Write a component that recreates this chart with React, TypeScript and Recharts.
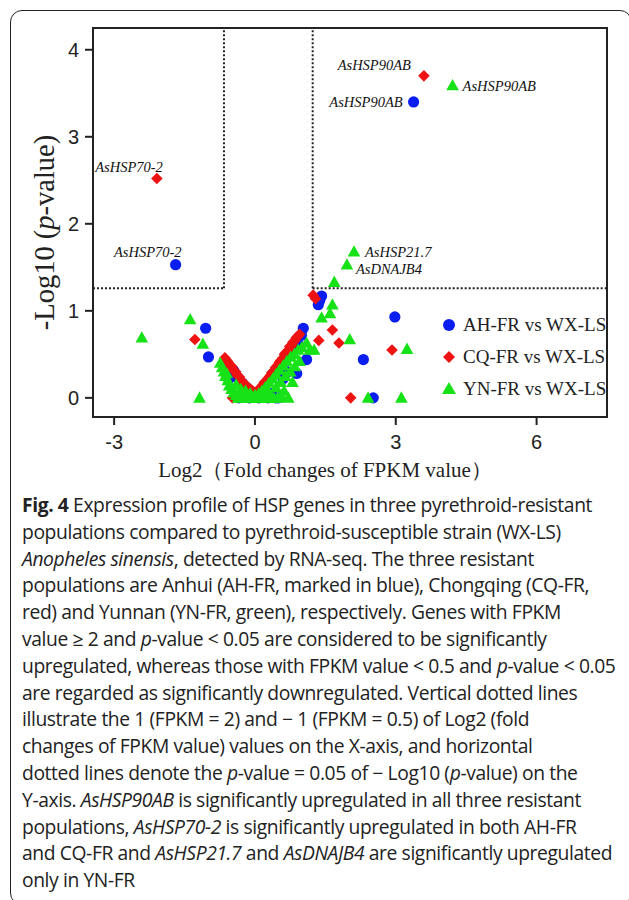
import React from 'react';
import {
  ScatterChart,
  Scatter,
  XAxis,
  YAxis,
  ReferenceLine,
  ReferenceArea,
  Legend,
} from 'recharts';

// ---------- data ----------
const X_TICKS = [-3, 0, 3, 6];
const Y_TICKS = [0, 1, 2, 3, 4];
const X_DOMAIN = [-3.45, 7.5];
const Y_DOMAIN = [-0.22, 4.25];
const FC_CUT_LOW = -0.66;
const FC_CUT_HIGH = 1.23;
const P_CUT = 1.26;

const SERIES_NAMES = ['AH-FR vs WX-LS', 'CQ-FR vs WX-LS', 'YN-FR vs WX-LS'];

// AH-FR (blue)
const AH_X = [3.38, -1.69, -1.05, -0.99, 2.98, 2.31, 2.52, 1.42, 1.35, 1.38, 1.03, 0.99, 1.10, 0.89, 0.50, -0.34, 0.44,
  -0.53, -0.6, -0.45, -0.38, -0.27, -0.18, -0.08, 0.03, 0.12, 0.21, 0.3, 0.39, 0.47, 0.56, 0.64, 0.72, 0.8, 0.92,
  -0.12, 0.08, 0.18, 0.28, 0.36, 0.6, 0.7];
const AH_Y = [3.40, 1.53, 0.80, 0.47, 0.93, 0.44, 0.0, 1.17, 1.07, 1.12, 0.80, 0.72, 0.44, 0.28, 0.0, 0.0, 0.0,
  0.23, 0.40, 0.31, 0.24, 0.17, 0.12, 0.07, 0.05, 0.09, 0.15, 0.21, 0.28, 0.33, 0.39, 0.46, 0.52, 0.58, 0.62,
  0.0, 0.0, 0.02, 0.0, 0.05, 0.22, 0.3];
const AH_GENES = ['AsHSP90AB', 'AsHSP70-2'];

// CQ-FR (red)
const CQ_X = [3.60, -2.09, -1.28, -0.48, 1.24, 1.29, 1.65, 1.36, 1.79, 2.92, 2.04,
  -0.64, -0.6, -0.57, -0.53, -0.49, -0.46, -0.41, -0.38, -0.33, -0.3, -0.25, -0.21, -0.16, -0.12, -0.07, -0.03,
  0.02, 0.05, 0.09, 0.13, 0.17, 0.2, 0.25, 0.29, 0.33, 0.36, 0.41, 0.44, 0.48, 0.52, 0.55, 0.6, 0.63, 0.66,
  0.71, 0.74, 0.78, 0.81, 0.85, 0.88, 0.92, 0.95];
const CQ_Y = [3.70, 2.52, 0.67, 0.0, 1.18, 1.14, 0.78, 0.66, 0.63, 0.55, 0.0,
  0.46, 0.43, 0.41, 0.37, 0.36, 0.32, 0.3, 0.26, 0.24, 0.2, 0.18, 0.15, 0.13, 0.1, 0.09, 0.07,
  0.06, 0.08, 0.1, 0.12, 0.15, 0.18, 0.2, 0.23, 0.26, 0.29, 0.31, 0.35, 0.37, 0.41, 0.43, 0.46, 0.5, 0.52,
  0.55, 0.59, 0.6, 0.64, 0.66, 0.69, 0.71, 0.73];
const CQ_GENES = ['AsHSP90AB', 'AsHSP70-2'];

// YN-FR (green)
const YN_X = [4.21, 2.11, 1.96, 1.69, 1.65, 1.60, 1.42, 2.02, 3.24, 2.41, 3.12, 0.71, -2.41, -1.38, -1.11, -1.18,
  -0.74, -0.7, -0.66, -0.63, -0.58, -0.55, -0.5, -0.45, -0.4, -0.36, -0.28, -0.2, -0.12, -0.05, 0.03, 0.1, 0.18,
  0.25, 0.33, 0.4, 0.48, 0.56, 0.08, 0.15, 0.22, 0.3, 0.38, 0.45, 0.52, 0.6, 0.68, 0.76, 0.84, 0.92, 1.0, 1.1,
  1.17, 1.26, 0.3, 0.45, 0.55, 0.65, 0.75, 0.85, 0.95, 0.62, 0.8, -0.2, -0.1, 0.0, -0.3, -0.4, -0.6];
const YN_Y = [3.59, 1.68, 1.53, 1.33, 1.07, 0.97, 0.92, 0.67, 0.56, 0.0, 0.0, 0.0, 0.69, 0.90, 0.62, 0.0,
  0.40, 0.35, 0.3, 0.25, 0.2, 0.14, 0.1, 0.06, 0.03, 0.0, 0.0, 0.0, 0.0, 0.0, 0.0, 0.0, 0.0,
  0.0, 0.0, 0.0, 0.0, 0.02, 0.05, 0.08, 0.12, 0.17, 0.22, 0.27, 0.32, 0.37, 0.42, 0.47, 0.5, 0.55, 0.58, 0.63,
  0.55, 0.55, 0.06, 0.12, 0.18, 0.25, 0.3, 0.36, 0.42, 0.08, 0.18, 0.08, 0.05, 0.03, 0.1, 0.15, 0.28];
const YN_GENES = ['AsHSP90AB', 'AsHSP21.7', 'AsDNAJB4'];

const build = (xs: number[], ys: number[], genes: string[]) =>
  xs.map((x, i) => ({ x, y: ys[i], gene: genes[i] || '' }));

const AH_DATA = build(AH_X, AH_Y, AH_GENES);
const CQ_DATA = build(CQ_X, CQ_Y, CQ_GENES);
const YN_DATA = build(YN_X, YN_Y, YN_GENES);

// ---------- styles ----------
const BLUE = '#0a1ef2';
const RED = '#ee1212';
const GREEN = '#17e217';
const SERIF = '"Liberation Serif", "Times New Roman", serif';
const SANS = '"Liberation Sans", Arial, sans-serif';

const LABEL_STYLE: Record<string, { dx: number; dy: number; anchor: 'start' | 'end' }> = {
  'AH:AsHSP90AB': { dx: -11, dy: 0, anchor: 'end' },
  'AH:AsHSP70-2': { dx: 6, dy: -13, anchor: 'end' },
  'CQ:AsHSP90AB': { dx: -13, dy: -11, anchor: 'end' },
  'CQ:AsHSP70-2': { dx: 6, dy: -12, anchor: 'end' },
  'YN:AsHSP90AB': { dx: 10, dy: 1, anchor: 'start' },
  'YN:AsHSP21.7': { dx: 11, dy: 0, anchor: 'start' },
  'YN:AsDNAJB4': { dx: 9, dy: 4, anchor: 'start' },
};

const geneLabel = (key: string, cx: number, cy: number, gene: string) => {
  if (!gene) return null;
  const s = LABEL_STYLE[key + ':' + gene];
  if (!s) return null;
  return (
    <text
      x={cx + s.dx}
      y={cy + s.dy}
      textAnchor={s.anchor}
      dominantBaseline="central"
      fontFamily={SERIF}
      fontStyle="italic"
      fontSize={14.5}
      fill="#111"
    >
      {gene}
    </text>
  );
};

const CircleShape = (props: any) => {
  const { cx, cy, payload } = props;
  return (
    <g>
      <circle cx={cx} cy={cy} r={5.6} fill={BLUE} />
      {geneLabel('AH', cx, cy, payload?.gene)}
    </g>
  );
};

const DiamondShape = (props: any) => {
  const { cx, cy, payload } = props;
  const d = 5.8;
  return (
    <g>
      <polygon points={`${cx},${cy - d} ${cx + d},${cy} ${cx},${cy + d} ${cx - d},${cy}`} fill={RED} />
      {geneLabel('CQ', cx, cy, payload?.gene)}
    </g>
  );
};

const TriangleShape = (props: any) => {
  const { cx, cy, payload } = props;
  const w = 6.3;
  return (
    <g>
      <polygon points={`${cx},${cy - 6.5} ${cx + w},${cy + 4.8} ${cx - w},${cy + 4.8}`} fill={GREEN} />
      {geneLabel('YN', cx, cy, payload?.gene)}
    </g>
  );
};

const LegendContent = () => {
  const markers = [
    <circle cx={8} cy={8} r={6} fill={BLUE} />,
    <polygon points="8,2 14,8 8,14 2,8" fill={RED} />,
    <polygon points="8,1 15,13 1,13" fill={GREEN} />,
  ];
  return (
    <div>
      {SERIES_NAMES.map((n, i) => (
        <div key={n} style={{ display: 'flex', alignItems: 'center', height: 32 }}>
          <svg width={16} height={16} style={{ marginRight: 6 }}>
            {markers[i]}
          </svg>
          <span style={{ fontFamily: SERIF, fontSize: 19, color: '#222', whiteSpace: 'nowrap' }}>{n}</span>
        </div>
      ))}
    </div>
  );
};

const YLabel = (props: any) => {
  const vb = props.viewBox || {};
  const cx = 44;
  const cy = vb.y + vb.height / 2 + 10;
  return (
    <text
      x={cx}
      y={cy}
      transform={`rotate(-90, ${cx}, ${cy})`}
      textAnchor="middle"
      dominantBaseline="central"
      fontFamily={SERIF}
      fontSize={28.5}
      fill="#222"
    >
      -Log10 (<tspan fontStyle="italic">p</tspan>-value)
    </text>
  );
};

const XLabel = (props: any) => {
  const vb = props.viewBox || {};
  const cx = vb.x + vb.width / 2 - 25;
  return (
    <text
      x={cx}
      y={470}
      textAnchor="middle"
      dominantBaseline="central"
      fontFamily={SERIF}
      fontSize={21}
      fill="#222"
    >
      Log2（Fold changes of FPKM value）
    </text>
  );
};

const CAPTION_LINES: React.ReactNode[] = [
  <><b style={{ fontWeight: 700 }}>Fig. 4</b>{'  '}Expression profile of HSP genes in three pyrethroid-resistant</>,
  <>populations compared to pyrethroid-susceptible strain (WX-LS)</>,
  <><i>Anopheles sinensis</i>, detected by RNA-seq. The three resistant</>,
  <>populations are Anhui (AH-FR, marked in blue), Chongqing (CQ-FR,</>,
  <>red) and Yunnan (YN-FR, green), respectively. Genes with FPKM</>,
  <>value ≥ 2 and <i>p</i>-value &lt; 0.05 are considered to be significantly</>,
  <>upregulated, whereas those with FPKM value &lt; 0.5 and <i>p</i>-value &lt; 0.05</>,
  <>are regarded as significantly downregulated. Vertical dotted lines</>,
  <>illustrate the 1 (FPKM = 2) and − 1 (FPKM = 0.5) of Log2 (fold</>,
  <>changes of FPKM value) values on the X-axis, and horizontal</>,
  <>dotted lines denote the <i>p</i>-value = 0.05 of − Log10 (<i>p</i>-value) on the</>,
  <>Y-axis. <i>AsHSP90AB</i> is significantly upregulated in all three resistant</>,
  <>populations, <i>AsHSP70-2</i> is significantly upregulated in both AH-FR</>,
  <>and CQ-FR and <i>AsHSP21.7</i> and <i>AsDNAJB4</i> are significantly upregulated</>,
  <>only in YN-FR</>,
];

const DOT = { stroke: '#222', strokeWidth: 2, strokeDasharray: '2 2' };

export default function App() {
  return (
    <div
      style={{
        position: 'fixed',
        left: 0,
        top: 0,
        width: 629,
        height: 900,
        overflow: 'hidden',
        background: '#fff',
      }}
    >
      <div
        style={{
          position: 'absolute',
          left: 10,
          top: 10,
          width: 620,
          height: 893,
          borderLeft: '1.5px solid #222',
          borderTop: '1.5px solid #222',
          borderRight: '1.5px solid #222',
          borderBottom: '1.5px solid #222',
          borderRadius: 12,
        }}
      />
      <div style={{ position: 'absolute', left: 0, top: 0 }}>
        <ScatterChart width={629} height={490} margin={{ top: 28, right: 22, bottom: 0, left: 0 }}>
          <ReferenceArea
            x1={X_DOMAIN[0]}
            x2={X_DOMAIN[1]}
            y1={Y_DOMAIN[0]}
            y2={Y_DOMAIN[1]}
            fill="none"
            stroke="#222"
            strokeWidth={2}
            ifOverflow="visible"
          />
          <XAxis
            type="number"
            dataKey="x"
            domain={X_DOMAIN}
            ticks={X_TICKS}
            allowDataOverflow
            height={73}
            axisLine={{ stroke: '#222', strokeWidth: 2 }}
            tickLine={{ stroke: '#222', strokeWidth: 2 }}
            tickSize={8}
            tick={{ fontFamily: SANS, fontSize: 20, fill: '#222', dy: 8 }}
            label={<XLabel />}
          />
          <YAxis
            type="number"
            dataKey="y"
            domain={Y_DOMAIN}
            ticks={Y_TICKS}
            allowDataOverflow
            width={93}
            axisLine={{ stroke: '#222', strokeWidth: 2 }}
            tickLine={{ stroke: '#222', strokeWidth: 2 }}
            tickSize={8}
            tick={{ fontFamily: SANS, fontSize: 20, fill: '#222', dx: -4 }}
            label={<YLabel />}
          />
          <ReferenceLine segment={[{ x: FC_CUT_LOW, y: P_CUT }, { x: FC_CUT_LOW, y: Y_DOMAIN[1] }]} {...DOT} />
          <ReferenceLine segment={[{ x: FC_CUT_HIGH, y: P_CUT }, { x: FC_CUT_HIGH, y: Y_DOMAIN[1] }]} {...DOT} />
          <ReferenceLine segment={[{ x: X_DOMAIN[0], y: P_CUT }, { x: FC_CUT_LOW, y: P_CUT }]} {...DOT} />
          <ReferenceLine segment={[{ x: FC_CUT_HIGH, y: P_CUT }, { x: X_DOMAIN[1], y: P_CUT }]} {...DOT} />
          <Scatter name={SERIES_NAMES[0]} data={AH_DATA} shape={CircleShape} isAnimationActive={false} />
          <Scatter name={SERIES_NAMES[1]} data={CQ_DATA} shape={DiamondShape} isAnimationActive={false} />
          <Scatter name={SERIES_NAMES[2]} data={YN_DATA} shape={TriangleShape} isAnimationActive={false} />
          <Legend
            layout="vertical"
            align="center"
            verticalAlign="middle"
            content={<LegendContent />}
            wrapperStyle={{ position: 'absolute', left: 441, top: 309, width: 170, height: 100 }}
          />
        </ScatterChart>
      </div>
      <div
        style={{
          position: 'absolute',
          left: 22,
          top: 492,
          fontFamily: '"Open Sans", "Noto Sans", sans-serif',
          fontSize: 19.3,
          letterSpacing: -0.4,
          lineHeight: '26.8px',
          color: '#222',
        }}
      >
        {CAPTION_LINES.map((l, i) => (
          <div key={i} style={{ whiteSpace: 'nowrap' }}>
            {l}
          </div>
        ))}
      </div>
    </div>
  );
}
